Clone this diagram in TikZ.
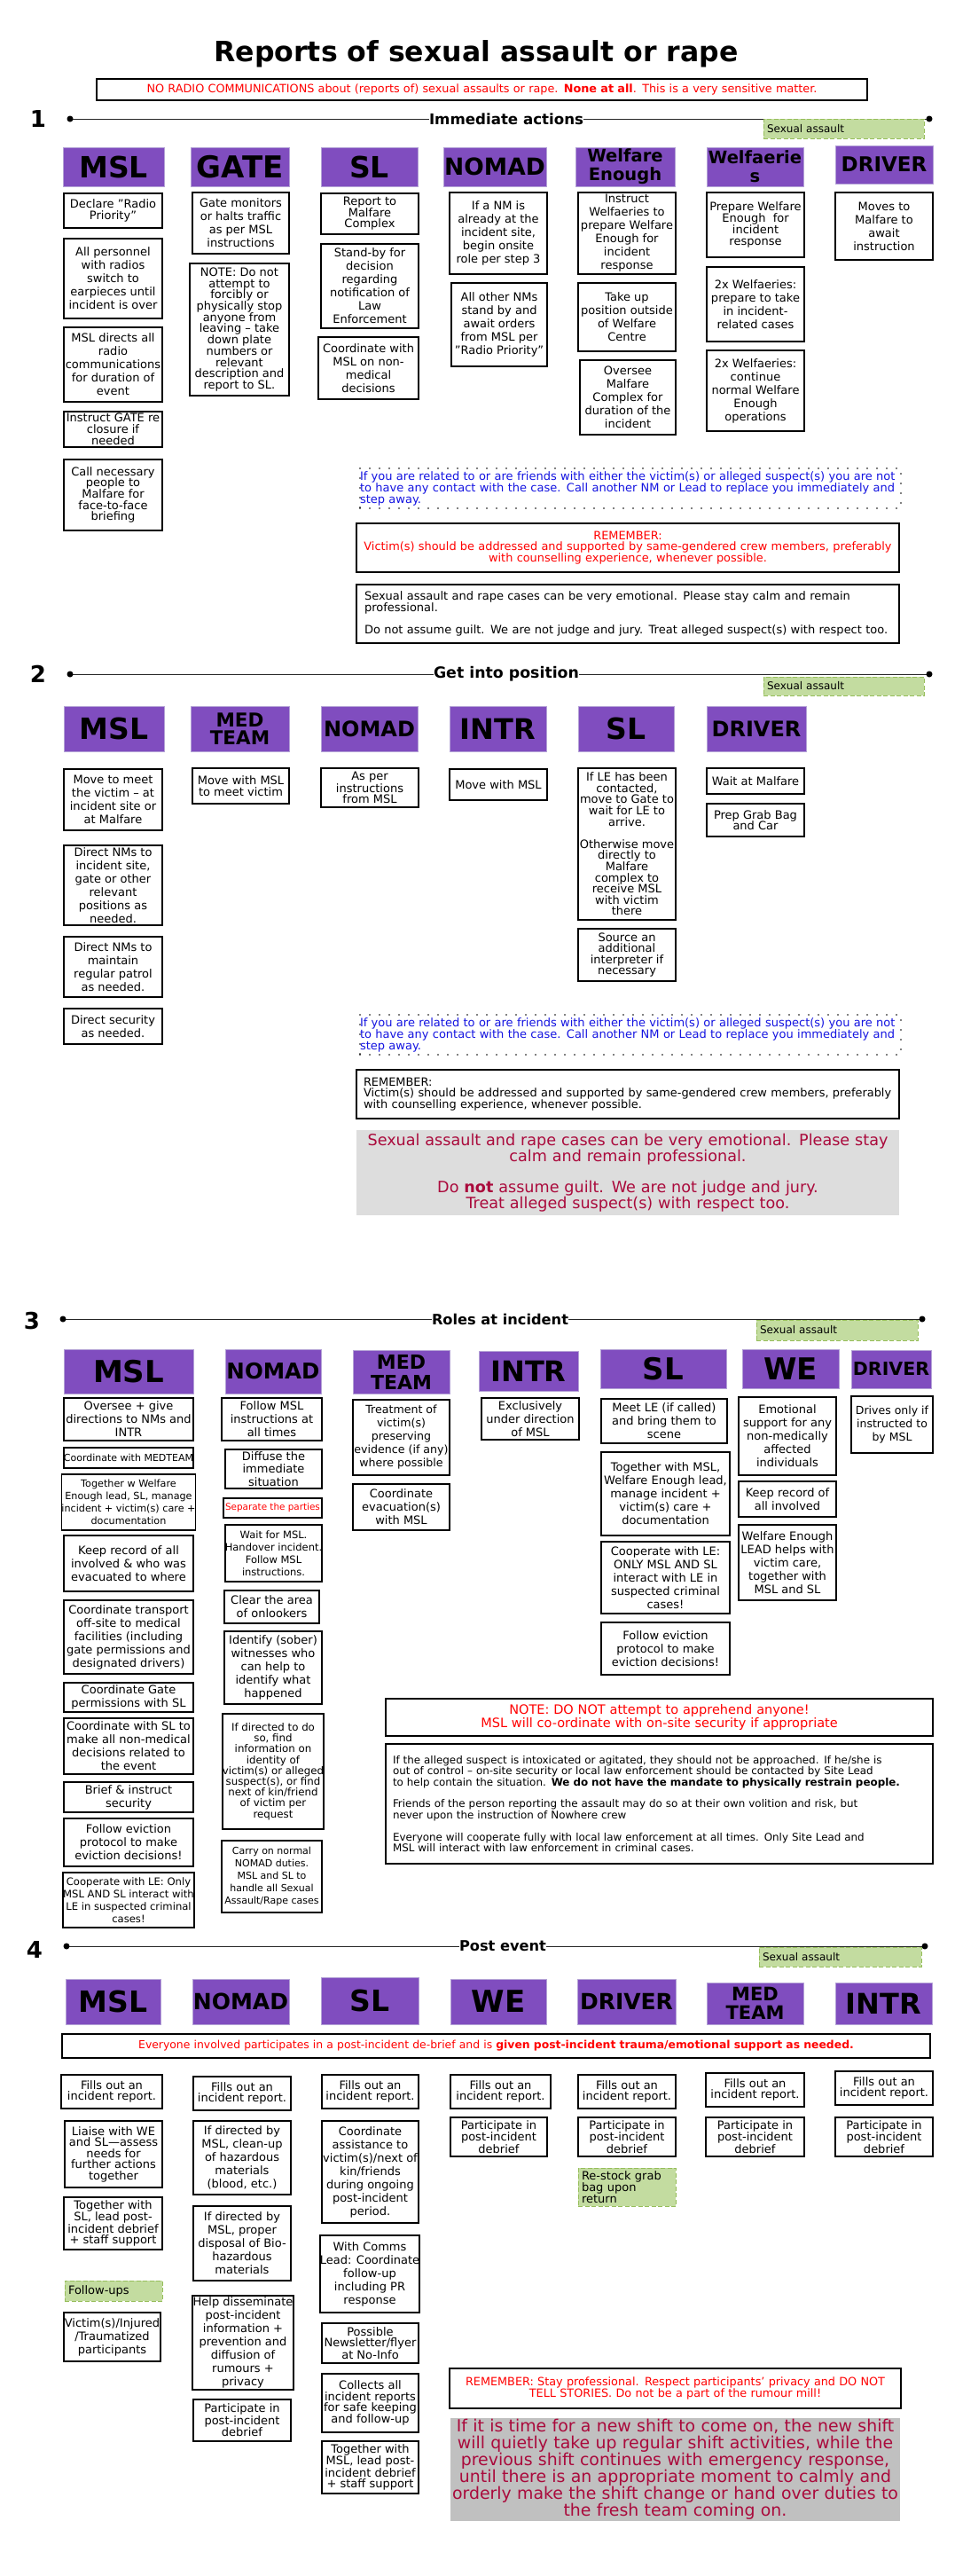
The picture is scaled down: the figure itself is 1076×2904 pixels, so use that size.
\documentclass[tikz,border=0pt]{standalone}
\usepackage{graphicx}
\usepackage{fontspec}
\setmainfont{DejaVu Sans}
\newcommand\fs[2]{\fontsize{#1}{#2}\selectfont}
\definecolor{hdr}{RGB}{128,77,191}
\definecolor{hdrline}{RGB}{180,162,214}
\definecolor{grn}{RGB}{195,220,160}
\definecolor{grnline}{RGB}{150,190,90}
\definecolor{crim}{RGB}{170,10,60}
\definecolor{bluetx}{RGB}{20,20,225}
\definecolor{gray1}{RGB}{221,221,221}
\definecolor{gray2}{RGB}{192,192,192}
\tikzset{
 boxst/.style={draw=black, line width=1.8pt, fill=white, inner sep=0pt, align=center, font=\fs{13}{15}},
 hdrst/.style={fill=hdr, draw=hdrline, line width=0.8pt, inner sep=0pt, align=center, font=\bfseries\fs{33}{30}},
 grnst/.style={fill=grn, draw=grnline, line width=1pt, dash pattern=on 5pt off 2.5pt, inner ysep=0pt, align=left, font=\fs{12}{13}},
 notest/.style={draw=black, line width=1.8pt, inner ysep=0pt, align=left, font=\fs{12.9}{12.8}},
 dotst/.style={line width=1.8pt, dash pattern=on 0pt off 11pt, line cap=round, text=bluetx, font=\fs{13}{13}},
 secline/.style={line width=1pt, draw=black!85},
 secdot/.style={fill=black, circle, inner sep=0pt, minimum size=7pt},
 sectitle/.style={font=\bfseries\fs{20}{20}, inner sep=0pt},
 secnum/.style={font=\bfseries\fs{26}{26}, inner sep=0pt},
}
\newcommand\bx[7][]{\node[boxst,minimum width={#5-#3},minimum height={#6-#4},#1] (#2) at ({(#3+#5)/2},{(#4+#6)/2}) {#7};}
\newcommand\hd[7][]{\node[hdrst,minimum width={#5-#3},minimum height={#6-#4},#1] (#2) at ({(#3+#5)/2},{(#4+#6)/2}) {#7};}
\newcommand\gb[7][]{\pgfmathsetmacro\gbw{#5-#3-8}\node[grnst,minimum height={#6-#4},text width=\gbw pt,inner xsep=4pt,#1] (#2) at ({(#3+#5)/2},{(#4+#6)/2}) {#7};}
\newcommand\nb[8][]{\pgfmathsetmacro\nbw{#5-#3-2*#7}\node[notest,minimum height={#6-#4},text width=\nbw pt,inner xsep=#7pt,#1] (#2) at ({(#3+#5)/2},{(#4+#6)/2}) {#8};}
\begin{document}
\begin{tikzpicture}[x=1pt,y=-1pt]
\useasboundingbox[fill=white] (0,0) rectangle (1076,2904);
% title
\node[inner sep=0pt, anchor=base] (title) at (537,70) {\resizebox{591pt}{!}{\bfseries\fs{40}{40}Reports of sexual assault or rape}};
\nb[text=red,align=center,font=\fs{12.8}{12}]{topred}{109}{89}{978}{113}{4}{NO RADIO COMMUNICATIONS about (reports of) sexual assaults or rape. \textbf{None at all}. This is a very sensitive matter.}

% ================= SECTION 1
\node[secnum] (s1num) at (43,134) {1};
\node[sectitle] (s1t) at (571,134) {\resizebox{174pt}{!}{Immediate actions}};
\coordinate (s1a) at (79,134); \coordinate (s1b) at (1048,134);
\draw[secline] (s1a) -- (s1t.west); \draw[secline] (s1t.east) -- (s1b);
\node[secdot] at (s1a) {}; \node[secdot] at (s1b) {};
\gb{s1sa}{861}{134}{1042}{156}{Sexual assault}

\hd{s1hmsl}{71}{166}{185}{210}{MSL}
\hd[font=\bfseries\fs{34}{30}]{s1hgate}{215}{166}{326}{210}{GATE}
\hd{s1hsl}{362}{166}{471}{210}{SL}
\hd[font=\bfseries\fs{26.5}{26}]{s1hnomad}{500}{166}{616}{210}{NOMAD}
\hd[font=\bfseries\fs{19.5}{21}]{s1hwe}{649}{166}{761}{210}{Welfare\\Enough}
\hd[font=\bfseries\fs{19.5}{21}]{s1hwf}{797}{166}{906}{210}{Welfaerie\\s}
\hd[font=\bfseries\fs{23}{23}]{s1hdrv}{942}{164}{1052}{207}{DRIVER}

\bx[font=\fs{13}{12.5}]{s1m1}{72}{218}{183}{257}{Declare "Radio\\Priority"}
\bx{s1m2}{72}{269}{183}{359}{All personnel\\with radios\\switch to\\earpieces until\\incident is over}
\bx{s1m3}{72}{369}{183}{453}{MSL directs all\\radio\\communications\\for duration of\\event}
\bx[font=\fs{13}{13}]{s1m4}{72}{464}{183}{504}{Instruct GATE re\\closure if\\needed}
\bx[font=\fs{13}{12.7}]{s1m5}{72}{518}{183}{598}{Call necessary\\people to\\Malfare for\\face-to-face\\briefing}

\bx{s1g1}{217}{217}{326}{286}{Gate monitors\\or halts traffic\\as per MSL\\instructions}
\bx[font=\fs{13}{12.7}]{s1g2}{214}{297}{326}{446}{NOTE: Do not\\attempt to\\forcibly or\\physically stop\\anyone from\\leaving – take\\down plate\\numbers or\\relevant\\description and\\report to SL.}

\bx[font=\fs{13}{12.6}]{s1l1}{362}{218}{472}{264}{Report to\\Malfare\\Complex}
\bx{s1l2}{362}{275}{472}{370}{Stand-by for\\decision\\regarding\\notification of\\Law\\Enforcement}
\bx{s1l3}{359}{380}{472}{450}{Coordinate with\\MSL on non-\\medical\\decisions}

\bx{s1n1}{507}{217}{617}{309}{If a NM is\\already at the\\incident site,\\begin onsite\\role per step 3}
\bx{s1n2}{509}{319}{617}{413}{All other NMs\\stand by and\\await orders\\from MSL per\\"Radio Priority"}

\bx{s1w1}{652}{217}{762}{309}{Instruct\\Welfaeries to\\prepare Welfare\\Enough for\\incident\\response}
\bx{s1w2}{652}{319}{762}{396}{Take up\\position outside\\of Welfare\\Centre}
\bx{s1w3}{654}{406}{762}{490}{Oversee\\Malfare\\Complex for\\duration of the\\incident}

\bx[font=\fs{13}{12.8}]{s1f1}{797}{217}{907}{290}{Prepare Welfare\\Enough~~for\\incident\\response}
\bx{s1f2}{797}{301}{907}{385}{2x Welfaeries:\\prepare to take\\in incident-\\related cases}
\bx{s1f3}{797}{395}{907}{486}{2x Welfaeries:\\continue\\normal Welfare\\Enough\\operations}

\bx{s1d1}{942}{217}{1052}{293}{Moves to\\Malfare to\\await\\instruction}

\nb[dotst]{s1dot}{406}{528}{1016}{573}{0}{If you are related to or are friends with either the victim(s) or alleged suspect(s) you are not\\to have any contact with the case. Call another NM or Lead to replace you immediately and\\step away.}
\nb[text=red,align=center]{s1rem}{402}{590}{1014}{645}{4}{REMEMBER:\\Victim(s) should be addressed and supported by same-gendered crew members, preferably\\with counselling experience, whenever possible.}
\nb[font=\fs{13}{12.8}]{s1blk}{402}{659}{1014}{725}{3}{\hspace*{6pt}Sexual assault and rape cases can be very emotional. Please stay calm and remain\\\hspace*{6pt}professional.\\[13pt]\hspace*{6pt}Do not assume guilt. We are not judge and jury. Treat alleged suspect(s) with respect too.}

% ================= SECTION 2
\node[secnum] (s2num) at (43,760) {2};
\node[sectitle] (s2t) at (571,760) {\resizebox{164pt}{!}{Get into position}};
\coordinate (s2a) at (79,760); \coordinate (s2b) at (1048,760);
\draw[secline] (s2a) -- (s2t.west); \draw[secline] (s2t.east) -- (s2b);
\node[secdot] at (s2a) {}; \node[secdot] at (s2b) {};
\gb{s2sa}{861}{763}{1042}{784}{Sexual assault}

\hd{s2hmsl}{72}{796}{185}{847}{MSL}
\hd[font=\bfseries\fs{21.5}{20}]{s2hmed}{215}{796}{326}{847}{MED\\TEAM}
\hd[font=\bfseries\fs{24}{24}]{s2hnomad}{362}{796}{471}{847}{NOMAD}
\hd[font=\bfseries\fs{32}{30}]{s2hintr}{507}{796}{616}{847}{INTR}
\hd{s2hsl}{652}{796}{760}{847}{SL}
\hd[font=\bfseries\fs{24}{24}]{s2hdrv}{797}{796}{909}{847}{DRIVER}

\bx{s2m1}{72}{867}{183}{936}{Move to meet\\the victim – at\\incident site or\\at Malfare}
\bx{s2m2}{72}{953}{183}{1043}{Direct NMs to\\incident site,\\gate or other\\relevant\\positions as\\needed.}
\bx{s2m3}{72}{1056}{183}{1124}{Direct NMs to\\maintain\\regular patrol\\as needed.}
\bx{s2m4}{72}{1137}{183}{1177}{Direct security\\as needed.}
\bx[font=\fs{13}{12.5}]{s2med1}{217}{866}{326}{906}{Move with MSL\\to meet victim}
\bx[font=\fs{13}{12.3}]{s2n1}{362}{866}{472}{910}{As per\\instructions\\from MSL}
\bx{s2i1}{507}{867}{617}{902}{Move with MSL}
\bx[font=\fs{13}{12.6}]{s2l1}{652}{866}{762}{1037}{If LE has been\\contacted,\\move to Gate to\\wait for LE to\\arrive.\\[12.6pt]Otherwise move\\directly to\\Malfare\\complex to\\receive MSL\\with victim\\there}
\bx[font=\fs{13}{12.6}]{s2l2}{652}{1047}{762}{1106}{Source an\\additional\\interpreter if\\necessary}
\bx{s2d1}{797}{866}{907}{895}{Wait at Malfare}
\bx[font=\fs{13}{12.6}]{s2d2}{797}{906}{907}{943}{Prep Grab Bag\\and Car}

\nb[dotst]{s2dot}{406}{1144}{1016}{1189}{0}{If you are related to or are friends with either the victim(s) or alleged suspect(s) you are not\\to have any contact with the case. Call another NM or Lead to replace you immediately and\\step away.}
\nb{s2rem}{402}{1206}{1014}{1261}{8}{REMEMBER:\\Victim(s) should be addressed and supported by same-gendered crew members, preferably\\with counselling experience, whenever possible.}
\nb[draw=none,fill=gray1,text=crim,align=center,font=\fs{17.6}{18.5}]{s2gray}{402}{1274}{1014}{1370}{2}{Sexual assault and rape cases can be very emotional. Please stay\\calm and remain professional.\\[16pt]Do \textbf{not} assume guilt. We are not judge and jury.\\Treat alleged suspect(s) with respect too.}

% ================= SECTION 3
\node[secnum] (s3num) at (36,1489) {3};
\node[sectitle] (s3t) at (564,1487) {\resizebox{154pt}{!}{Roles at incident}};
\coordinate (s3a) at (71,1487); \coordinate (s3b) at (1040,1487);
\draw[secline] (s3a) -- (s3t.west); \draw[secline] (s3t.east) -- (s3b);
\node[secdot] at (s3a) {}; \node[secdot] at (s3b) {};
\gb{s3sa}{853}{1488}{1035}{1511}{Sexual assault}

\hd[font=\bfseries\fs{34}{30}]{s3hmsl}{72}{1521}{218}{1571}{MSL}
\hd[font=\bfseries\fs{24.5}{24}]{s3hnomad}{254}{1521}{362}{1571}{NOMAD}
\hd[font=\bfseries\fs{22}{23}]{s3hmed}{398}{1522}{507}{1571}{MED\\TEAM}
\hd[font=\bfseries\fs{32}{30}]{s3hintr}{540}{1523}{652}{1568}{INTR}
\hd[font=\bfseries\fs{34}{30}]{s3hsl}{677}{1521}{819}{1565}{SL}
\hd[font=\bfseries\fs{34}{30}]{s3hwe}{837}{1521}{946}{1565}{WE}
\hd[font=\bfseries\fs{20.5}{20}]{s3hdrv}{960}{1522}{1050}{1565}{DRIVER}

\bx{s3m1}{72}{1576}{218}{1624}{Oversee + give\\directions to NMs and\\INTR}
\bx[font=\fs{11}{12}]{s3m2}{72}{1632}{218}{1655}{Coordinate with MEDTEAM}
\bx[font=\fs{11.2}{13.8}]{s3m3}{72}{1662}{218}{1725}{Together w Welfare\\Enough lead, SL, manage\\incident + victim(s) care +\\documentation}
\bx{s3m4}{72}{1731}{218}{1794}{Keep record of all\\involved \& who was\\evacuated to where}
\bx{s3m5}{72}{1804}{218}{1887}{Coordinate transport\\off-site to medical\\facilities (including\\gate permissions and\\designated drivers)}
\bx[font=\fs{13}{14.5}]{s3m6}{72}{1897}{218}{1930}{Coordinate Gate\\permissions with SL}
\bx{s3m7}{72}{1937}{218}{2000}{Coordinate with SL to\\make all non-medical\\decisions related to\\the event}
\bx{s3m8}{72}{2009}{218}{2043}{Brief \& instruct\\security}
\bx{s3m9}{72}{2050}{218}{2104}{Follow eviction\\protocol to make\\eviction decisions!}
\bx[font=\fs{11.6}{13.8}]{s3m10}{72}{2111}{218}{2173}{Cooperate with LE: Only\\MSL AND SL interact with\\LE in suspected criminal\\cases!}

\bx{s3n1}{250}{1576}{363}{1624}{Follow MSL\\instructions at\\all times}
\bx[font=\fs{13}{14.5}]{s3n2}{254}{1634}{363}{1678}{Diffuse the\\immediate\\situation}
\bx[font=\fs{10.4}{12},text=red]{s3n3}{252}{1689}{363}{1711}{Separate the parties}
\bx[font=\fs{11.5}{14}]{s3n4}{254}{1719}{363}{1783}{Wait for MSL.\\Handover incident.\\Follow MSL\\instructions.}
\bx{s3n5}{253}{1793}{360}{1830}{Clear the area\\of onlookers}
\bx{s3n6}{253}{1839}{363}{1921}{Identify (sober)\\witnesses who\\can help to\\identify what\\happened}
\bx[font=\fs{11.8}{12.2}]{s3n7}{253}{1932}{363}{2062}{If directed to do\\so, find\\information on\\identity of\\victim(s) or alleged\\suspect(s), or find\\next of kin/friend\\of victim per\\request}
\bx[font=\fs{11}{14}]{s3n8}{250}{2075}{363}{2156}{Carry on normal\\NOMAD duties.\\MSL and SL to\\handle all Sexual\\Assault/Rape cases}

\bx[font=\fs{12.6}{15}]{s3e1}{398}{1578}{507}{1663}{Treatment of\\victim(s)\\preserving\\evidence (if any)\\where possible}
\bx{s3e2}{398}{1673}{507}{1725}{Coordinate\\evacuation(s)\\with MSL}
\bx{s3i1}{543}{1576}{653}{1623}{Exclusively\\under direction\\of MSL}
\bx{s3l1}{678}{1577}{820}{1627}{Meet LE (if called)\\and bring them to\\scene}
\bx{s3l2}{678}{1637}{823}{1731}{Together with MSL,\\Welfare Enough lead,\\manage incident +\\victim(s) care +\\documentation}
\bx{s3l3}{678}{1738}{823}{1819}{Cooperate with LE:\\ONLY MSL AND SL\\interact with LE in\\suspected criminal\\cases!}
\bx{s3l4}{678}{1829}{823}{1888}{Follow eviction\\protocol to make\\eviction decisions!}
\bx{s3w1}{833}{1575}{943}{1663}{Emotional\\support for any\\non-medically\\affected\\individuals}
\bx{s3w2}{833}{1670}{943}{1710}{Keep record of\\all involved}
\bx{s3w3}{833}{1719}{943}{1804}{Welfare Enough\\LEAD helps with\\victim care,\\together with\\MSL and SL}
\bx[font=\fs{12.5}{15}]{s3dr1}{960}{1574}{1052}{1638}{Drives only if\\instructed to\\by MSL}

\nb[text=red,align=center,font=\fs{14.5}{13}]{s3note}{435}{1915}{1052}{1957}{4}{NOTE: DO NOT attempt to apprehend anyone!\\MSL will co-ordinate with on-site security if appropriate}
\nb[font=\fs{11.9}{12.6}]{s3txt}{435}{1966}{1052}{2101}{8}{If the alleged suspect is intoxicated or agitated, they should not be approached. If he/she is\\out of control – on-site security or local law enforcement should be contacted by Site Lead\\to help contain the situation. \textbf{We do not have the mandate to physically restrain people.}\\[12pt]Friends of the person reporting the assault may do so at their own volition and risk, but\\never upon the instruction of Nowhere crew\\[12pt]Everyone will cooperate fully with local law enforcement at all times. Only Site Lead and\\MSL will interact with law enforcement in criminal cases.}

% ================= SECTION 4
\node[secnum] (s4num) at (39,2198) {4};
\node[sectitle] (s4t) at (567,2194) {\resizebox{98pt}{!}{Post event}};
\coordinate (s4a) at (75,2194); \coordinate (s4b) at (1043,2194);
\draw[secline] (s4a) -- (s4t.west); \draw[secline] (s4t.east) -- (s4b);
\node[secdot] at (s4a) {}; \node[secdot] at (s4b) {};
\gb{s4sa}{856}{2195}{1039}{2217}{Sexual assault}

\hd{s4hmsl}{74}{2231}{181}{2282}{MSL}
\hd[font=\bfseries\fs{25}{24}]{s4hnomad}{217}{2231}{326}{2282}{NOMAD}
\hd{s4hsl}{362}{2229}{472}{2282}{SL}
\hd[font=\bfseries\fs{34}{30}]{s4hwe}{508}{2231}{616}{2282}{WE}
\hd[font=\bfseries\fs{25}{24}]{s4hdrv}{651}{2231}{762}{2282}{DRIVER}
\hd[font=\bfseries\fs{21}{21}]{s4hmed}{797}{2235}{906}{2282}{MED\\TEAM}
\hd[font=\bfseries\fs{32}{30}]{s4hintr}{942}{2235}{1051}{2282}{INTR}

\nb[text=red,align=center,font=\fs{12.4}{12}]{s4band}{70}{2293}{1049}{2320}{4}{Everyone involved participates in a post-incident de-brief and is \textbf{given post-incident trauma/emotional support as needed.}}

\bx[font=\fs{13}{12.5}]{s4m1}{69}{2339}{183}{2377}{Fills out an\\incident report.}
\bx[font=\fs{13}{12.5}]{s4m2}{73}{2391}{183}{2466}{Liaise with WE\\and SL—assess\\needs for\\further actions\\together}
\bx[font=\fs{13}{12.5}]{s4m3}{72}{2477}{183}{2536}{Together with\\SL, lead post-\\incident debrief\\+ staff support}
\gb[font=\fs{13}{13}]{s4fu}{73}{2571}{183}{2594}{Follow-ups}
\bx[font=\fs{13}{15}]{s4m4}{72}{2607}{181}{2662}{Victim(s)/Injured\\/Traumatized\\participants}

\bx[font=\fs{13}{12.5}]{s4n1}{218}{2341}{328}{2379}{Fills out an\\incident report.}
\bx[font=\fs{13}{15}]{s4n2}{218}{2391}{328}{2474}{If directed by\\MSL, clean-up\\of hazardous\\materials\\(blood, etc.)}
\bx[font=\fs{13}{15}]{s4n3}{218}{2487}{328}{2571}{If directed by\\MSL, proper\\disposal of Bio-\\hazardous\\materials}
\bx[font=\fs{13}{15}]{s4n4}{217}{2588}{331}{2694}{Help disseminate\\post-incident\\information +\\prevention and\\diffusion of\\rumours +\\privacy}
\bx[font=\fs{13}{12.5}]{s4n5}{218}{2705}{328}{2752}{Participate in\\post-incident\\debrief}

\bx[font=\fs{13}{12.5}]{s4l1}{363}{2339}{472}{2377}{Fills out an\\incident report.}
\bx[font=\fs{13}{15}]{s4l2}{363}{2391}{472}{2506}{Coordinate\\assistance to\\victim(s)/next of\\kin/friends\\during ongoing\\post-incident\\period.}
\bx[font=\fs{13}{15}]{s4l3}{362}{2520}{472}{2607}{With Comms\\Lead: Coordinate\\follow-up\\including PR\\response}
\bx[font=\fs{13}{12.5}]{s4l4}{363}{2619}{472}{2664}{Possible\\Newsletter/flyer\\at No-Info}
\bx[font=\fs{13}{12.7}]{s4l5}{363}{2676}{472}{2742}{Collects all\\incident reports\\for safe keeping\\and follow-up}
\bx[font=\fs{13}{12.5}]{s4l6}{363}{2752}{472}{2811}{Together with\\MSL, lead post-\\incident debrief\\+ staff support}

\bx[font=\fs{13}{12.5}]{s4w1}{508}{2339}{621}{2377}{Fills out an\\incident report.}
\bx[font=\fs{13}{12.5}]{s4w2}{508}{2387}{617}{2431}{Participate in\\post-incident\\debrief}
\bx[font=\fs{13}{12.5}]{s4d1}{652}{2339}{762}{2377}{Fills out an\\incident report.}
\bx[font=\fs{13}{12.5}]{s4d2}{652}{2387}{762}{2431}{Participate in\\post-incident\\debrief}
\gb[font=\fs{13}{12.5}]{s4rs}{652}{2444}{762}{2487}{Re-stock grab\\bag upon\\return}
\bx[font=\fs{13}{12.5}]{s4e1}{796}{2337}{907}{2375}{Fills out an\\incident report.}
\bx[font=\fs{13}{12.5}]{s4e2}{796}{2387}{907}{2431}{Participate in\\post-incident\\debrief}
\bx[font=\fs{13}{12.5}]{s4i1}{942}{2335}{1052}{2373}{Fills out an\\incident report.}
\bx[font=\fs{13}{12.5}]{s4i2}{942}{2387}{1052}{2431}{Participate in\\post-incident\\debrief}

\nb[text=red,align=center,font=\fs{12.8}{12.5}]{s4rem}{507}{2670}{1016}{2715}{4}{REMEMBER: Stay professional. Respect participants’ privacy and DO NOT\\TELL STORIES. Do not be a part of the rumour mill!}
\nb[draw=none,fill=gray2,text=crim,align=center,font=\fs{18.9}{19}]{s4gray}{508}{2726}{1015}{2842}{2}{If it is time for a new shift to come on, the new shift\\will quietly take up regular shift activities, while the\\previous shift continues with emergency response,\\until there is an appropriate moment to calmly and\\orderly make the shift change or hand over duties to\\the fresh team coming on.}
\end{tikzpicture}
\end{document}
